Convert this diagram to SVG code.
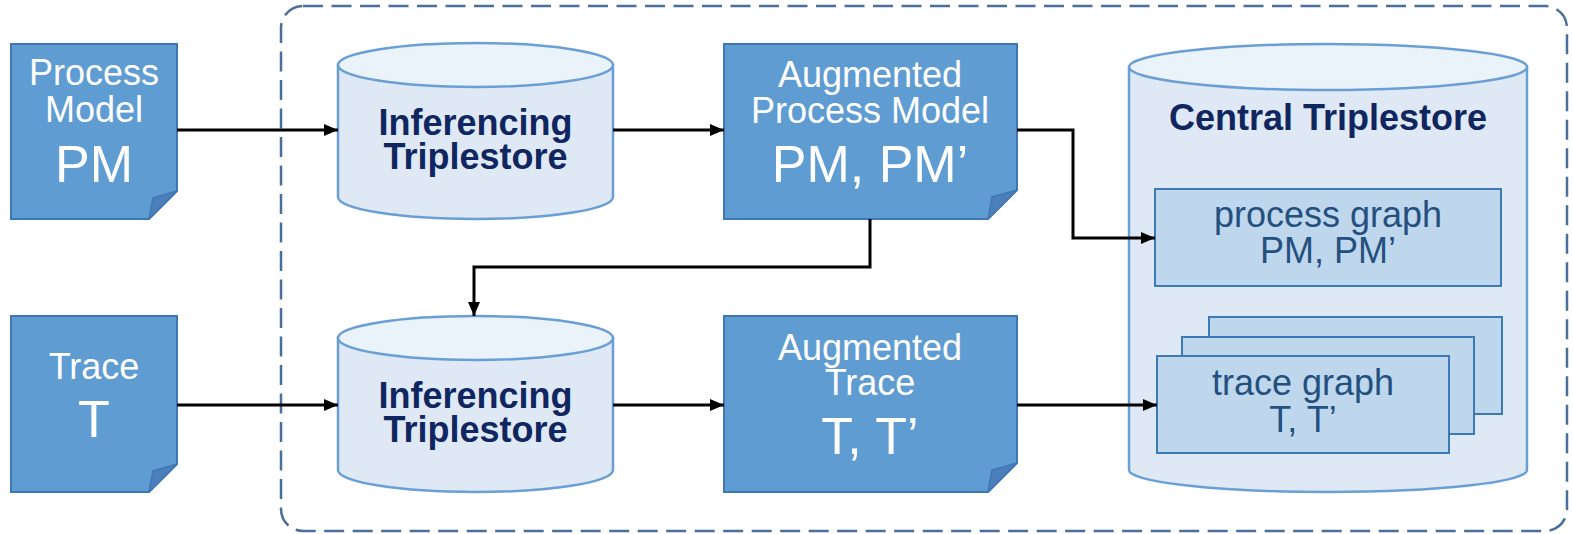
<svg xmlns="http://www.w3.org/2000/svg" width="1573" height="534" viewBox="0 0 1573 534">
  <style>
    .doc { fill: #5f9cd1; stroke: #3f77b5; stroke-width: 2; }
    .fold { fill: #4b80ba; stroke: #3f77b5; stroke-width: 1.5; stroke-linejoin: round; }
    .cyl { fill: #dfe9f5; stroke: #6a9fd5; stroke-width: 2.5; }
    .cyltop { fill: #eaf2fa; stroke: #6a9fd5; stroke-width: 2.5; }
    .graph { fill: #bfd7ed; stroke: #3d79b7; stroke-width: 2; }
    .wt { font-family: "Liberation Sans", Arial, sans-serif; fill: #ffffff; text-anchor: middle; font-size: 36px; }
    .wt.big { font-size: 52px; }
    .bt { font-family: "Liberation Sans", Arial, sans-serif; fill: #0f2660; text-anchor: middle; font-size: 36px; font-weight: bold; }
    .gt { font-family: "Liberation Sans", Arial, sans-serif; fill: #24507f; text-anchor: middle; font-size: 36px; }
    .conn { fill: none; stroke: #000000; stroke-width: 3; marker-end: url(#arrow); }
  </style>
  <defs>
    <marker id="arrow" viewBox="0 0 14 12" refX="14" refY="6" markerWidth="14" markerHeight="12" markerUnits="userSpaceOnUse" orient="auto">
      <path d="M0,0 L14,6 L0,12 Z" fill="#000000"/>
    </marker>
  </defs>

  <!-- processing boundary -->
  <rect id="boundary" x="281" y="6" width="1286" height="525" rx="22" ry="22" fill="none" stroke="#4a6f9a" stroke-width="2.5" stroke-dasharray="20 8.5"/>

  <!-- process model input -->
  <g id="process-model">
    <path class="doc" d="M11,44 H177 V191 L149,219 H11 Z"/>
    <path class="fold" d="M149,219 L153,198 L177,191 Z"/>
    <text class="wt" x="94" y="85">Process</text>
    <text class="wt" x="94" y="122">Model</text>
    <text class="wt big" x="94" y="182">PM</text>
  </g>

  <!-- trace input -->
  <g id="trace">
    <path class="doc" d="M11,316 H177 V464 L149,492 H11 Z"/>
    <path class="fold" d="M149,492 L153,471 L177,464 Z"/>
    <text class="wt" x="94" y="379">Trace</text>
    <text class="wt big" x="94" y="437">T</text>
  </g>

  <!-- inferencing triplestore (process model) -->
  <g id="inferencing-1">
    <path class="cyl" d="M338,65 V197 A137.5,22 0 0 0 613,197 V65 Z"/>
    <ellipse class="cyltop" cx="475.5" cy="65" rx="137.5" ry="22"/>
    <text class="bt" x="475.5" y="135">Inferencing</text>
    <text class="bt" x="475.5" y="169">Triplestore</text>
  </g>

  <!-- inferencing triplestore (trace) -->
  <g id="inferencing-2">
    <path class="cyl" d="M338,338 V470 A137.5,22 0 0 0 613,470 V338 Z"/>
    <ellipse class="cyltop" cx="475.5" cy="338" rx="137.5" ry="22"/>
    <text class="bt" x="475.5" y="408">Inferencing</text>
    <text class="bt" x="475.5" y="442">Triplestore</text>
  </g>

  <!-- augmented process model -->
  <g id="augmented-pm">
    <path class="doc" d="M724,44 H1017 V190 L988,219 H724 Z"/>
    <path class="fold" d="M988,219 L992,197 L1017,190 Z"/>
    <text class="wt" x="870" y="87">Augmented</text>
    <text class="wt" x="870" y="123">Process Model</text>
    <text class="wt big" x="870" y="182">PM, PM’</text>
  </g>

  <!-- augmented trace -->
  <g id="augmented-trace">
    <path class="doc" d="M724,316 H1017 V463 L988,492 H724 Z"/>
    <path class="fold" d="M988,492 L992,470 L1017,463 Z"/>
    <text class="wt" x="870" y="360">Augmented</text>
    <text class="wt" x="870" y="395">Trace</text>
    <text class="wt big" x="870" y="454">T, T’</text>
  </g>

  <!-- central triplestore with stored graphs -->
  <g id="central-triplestore">
    <path class="cyl" d="M1129,67 V470 A199,22 0 0 0 1527,470 V67 Z"/>
    <ellipse class="cyltop" cx="1328" cy="67" rx="199" ry="23"/>
    <text class="bt" x="1328" y="130">Central Triplestore</text>
  </g>

  <g id="process-graph">
    <rect class="graph" x="1155" y="189" width="346" height="97"/>
    <text class="gt" x="1328" y="227">process graph</text>
    <text class="gt" x="1328" y="263">PM, PM’</text>
  </g>

  <g id="trace-graphs">
    <rect class="graph" x="1209" y="317" width="293" height="97"/>
    <rect class="graph" x="1182" y="337" width="292" height="97"/>
    <rect class="graph" x="1157" y="356" width="292" height="97"/>
    <text class="gt" x="1303" y="395">trace graph</text>
    <text class="gt" x="1303" y="432">T, T’</text>
  </g>

  <!-- connectors -->
  <g id="connectors">
    <path class="conn" d="M177,130 H338"/>
    <path class="conn" d="M613,130 H724"/>
    <path class="conn" d="M1017,130 H1073 V238 H1155"/>
    <path class="conn" d="M870,219 V267 H474 V316"/>
    <path class="conn" d="M177,405 H338"/>
    <path class="conn" d="M613,405 H724"/>
    <path class="conn" d="M1017,405 H1157"/>
  </g>
</svg>
